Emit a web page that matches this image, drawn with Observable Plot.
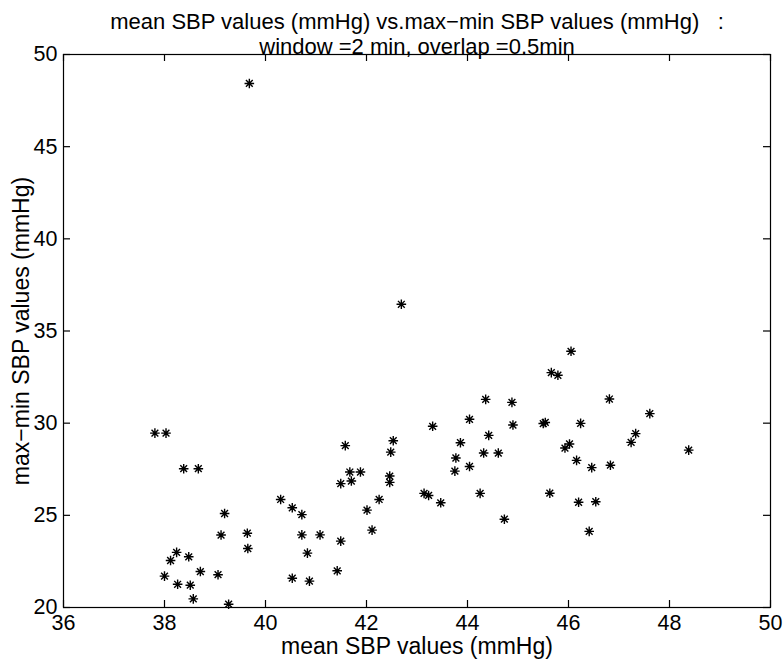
<!DOCTYPE html>
<html>
<head>
<meta charset="utf-8">
<script src="https://cdn.jsdelivr.net/npm/d3@7"></script>
<script src="https://cdn.jsdelivr.net/npm/@observablehq/plot@0.6"></script>
<style>
  html, body { margin: 0; padding: 0; background: #fff; }
  #chart svg { display: block; }
</style>
</head>
<body>
<div id="chart"></div>
<script>
// Data
const meanSBP = [
  37.81, 38.03, 38.38, 38.67, 38.00, 38.12, 38.24, 38.48, 38.26, 38.51,
  38.57, 38.71, 39.06, 39.12, 39.19, 39.27, 39.64, 39.65, 39.68, 40.30,
  40.53, 40.53, 40.72, 40.72, 40.83, 40.87, 41.08, 41.42, 41.49, 41.49,
  41.58, 41.67, 41.70, 41.88, 42.01, 42.11, 42.25, 42.46, 42.46, 42.48,
  42.53, 42.69, 43.14, 43.23, 43.31, 43.47, 43.75, 43.77, 43.86, 44.04,
  44.04, 44.25, 44.32, 44.36, 44.42, 44.61, 44.73, 44.88, 44.90, 45.50,
  45.54, 45.63, 45.66, 45.79, 45.93, 46.02, 46.05, 46.16, 46.24, 46.20,
  46.46, 46.41, 46.54, 46.81, 46.83, 47.24, 47.33, 47.61, 48.38
];
const rangeSBP = [
  29.46, 29.46, 27.53, 27.53, 21.70, 22.55, 22.99, 22.75, 21.26, 21.21,
  20.47, 21.95, 21.78, 23.93, 25.10, 20.18, 24.03, 23.20, 48.43, 25.86,
  25.41, 21.59, 25.04, 23.94, 22.95, 21.43, 23.94, 21.99, 23.60, 26.72,
  28.78, 27.35, 26.86, 27.35, 25.28, 24.20, 25.86, 26.79, 27.13, 28.43,
  29.05, 36.45, 26.19, 26.08, 29.83, 25.68, 27.40, 28.11, 28.94, 30.21,
  27.65, 26.19, 28.38, 31.29, 29.34, 28.38, 24.79, 31.13, 29.90, 29.98,
  30.04, 26.20, 32.74, 32.60, 28.65, 28.87, 33.90, 27.98, 29.99, 25.71,
  27.59, 24.13, 25.74, 31.31, 27.72, 28.96, 29.43, 30.52, 28.54
];
const xTicks = [36, 38, 40, 42, 44, 46, 48, 50];
const yTicks = [20, 25, 30, 35, 40, 45, 50];
const xDomain = [36, 50];
const yDomain = [20, 50];
const titleLines = [
  "mean SBP values (mmHg) vs.max\u2212min SBP values (mmHg)   :",
  "window =2 min, overlap =0.5min"
];
const xLabel = "mean SBP values (mmHg)";
const yLabel = "max\u2212min SBP values (mmHg)";

const points = meanSBP.map((x, i) => ({x, y: rangeSBP[i]}));

// MATLAB-style '*' marker: eight-armed asterisk
const asterisk = {
  draw(ctx, size) {
    const r = Math.sqrt(size / Math.PI);
    const d = r * Math.SQRT1_2;
    ctx.moveTo(-r, 0); ctx.lineTo(r, 0);
    ctx.moveTo(0, -r); ctx.lineTo(0, r);
    ctx.moveTo(-d, -d); ctx.lineTo(d, d);
    ctx.moveTo(-d, d); ctx.lineTo(d, -d);
  }
};

const font = "'Liberation Sans', Arial, Helvetica, sans-serif";
const W = 784, H = 666, mL = 63, mR = 14, mT = 54, mB = 59;
const tickLen = 7; // px
// tick length expressed in data units of each axis
const tx = tickLen * (xDomain[1] - xDomain[0]) / (W - mL - mR);
const ty = tickLen * (yDomain[1] - yDomain[0]) / (H - mT - mB);
const tickStyle = {stroke: "black", strokeWidth: 1.2};

const chart = Plot.plot({
  width: W,
  height: H,
  marginLeft: mL,
  marginRight: mR,
  marginTop: mT,
  marginBottom: mB,
  style: {fontFamily: font, fontSize: "21px", color: "black", background: "white"},
  x: {domain: xDomain, label: null},
  y: {domain: yDomain, label: null},
  marks: [
    Plot.frame({stroke: "black", strokeWidth: 1.2}),
    // inward ticks on all four sides
    Plot.ruleX(xTicks, {x: d => d, y1: () => yDomain[0], y2: () => yDomain[0] + ty, ...tickStyle}),
    Plot.ruleX(xTicks, {x: d => d, y1: () => yDomain[1] - ty, y2: () => yDomain[1], ...tickStyle}),
    Plot.ruleY(yTicks, {y: d => d, x1: () => xDomain[0], x2: () => xDomain[0] + tx, ...tickStyle}),
    Plot.ruleY(yTicks, {y: d => d, x1: () => xDomain[1] - tx, x2: () => xDomain[1], ...tickStyle}),
    // tick labels
    Plot.axisX(xTicks, {anchor: "bottom", tickSize: 0, tickPadding: 7, label: null, fontSize: 21.5}),
    Plot.axisY(yTicks, {anchor: "left", tickSize: 0, tickPadding: 6, label: null, fontSize: 21.5}),
    // data
    Plot.dot(points, {x: "x", y: "y", symbol: asterisk, r: 4.8, fill: "none", stroke: "black", strokeWidth: 1.4}),
    // titles and axis labels
    Plot.text([titleLines[0]], {text: d => d, frameAnchor: "top", dy: -41, fontSize: 22}),
    Plot.text([titleLines[1]], {text: d => d, frameAnchor: "top", dy: -16, fontSize: 22}),
    Plot.text([xLabel], {text: d => d, frameAnchor: "bottom", dy: 46, fontSize: 23}),
    Plot.text([yLabel], {text: d => d, frameAnchor: "left", textAnchor: "middle", rotate: -90, dx: -42, fontSize: 23})
  ]
});

document.getElementById("chart").appendChild(chart);
</script>
</body>
</html>
